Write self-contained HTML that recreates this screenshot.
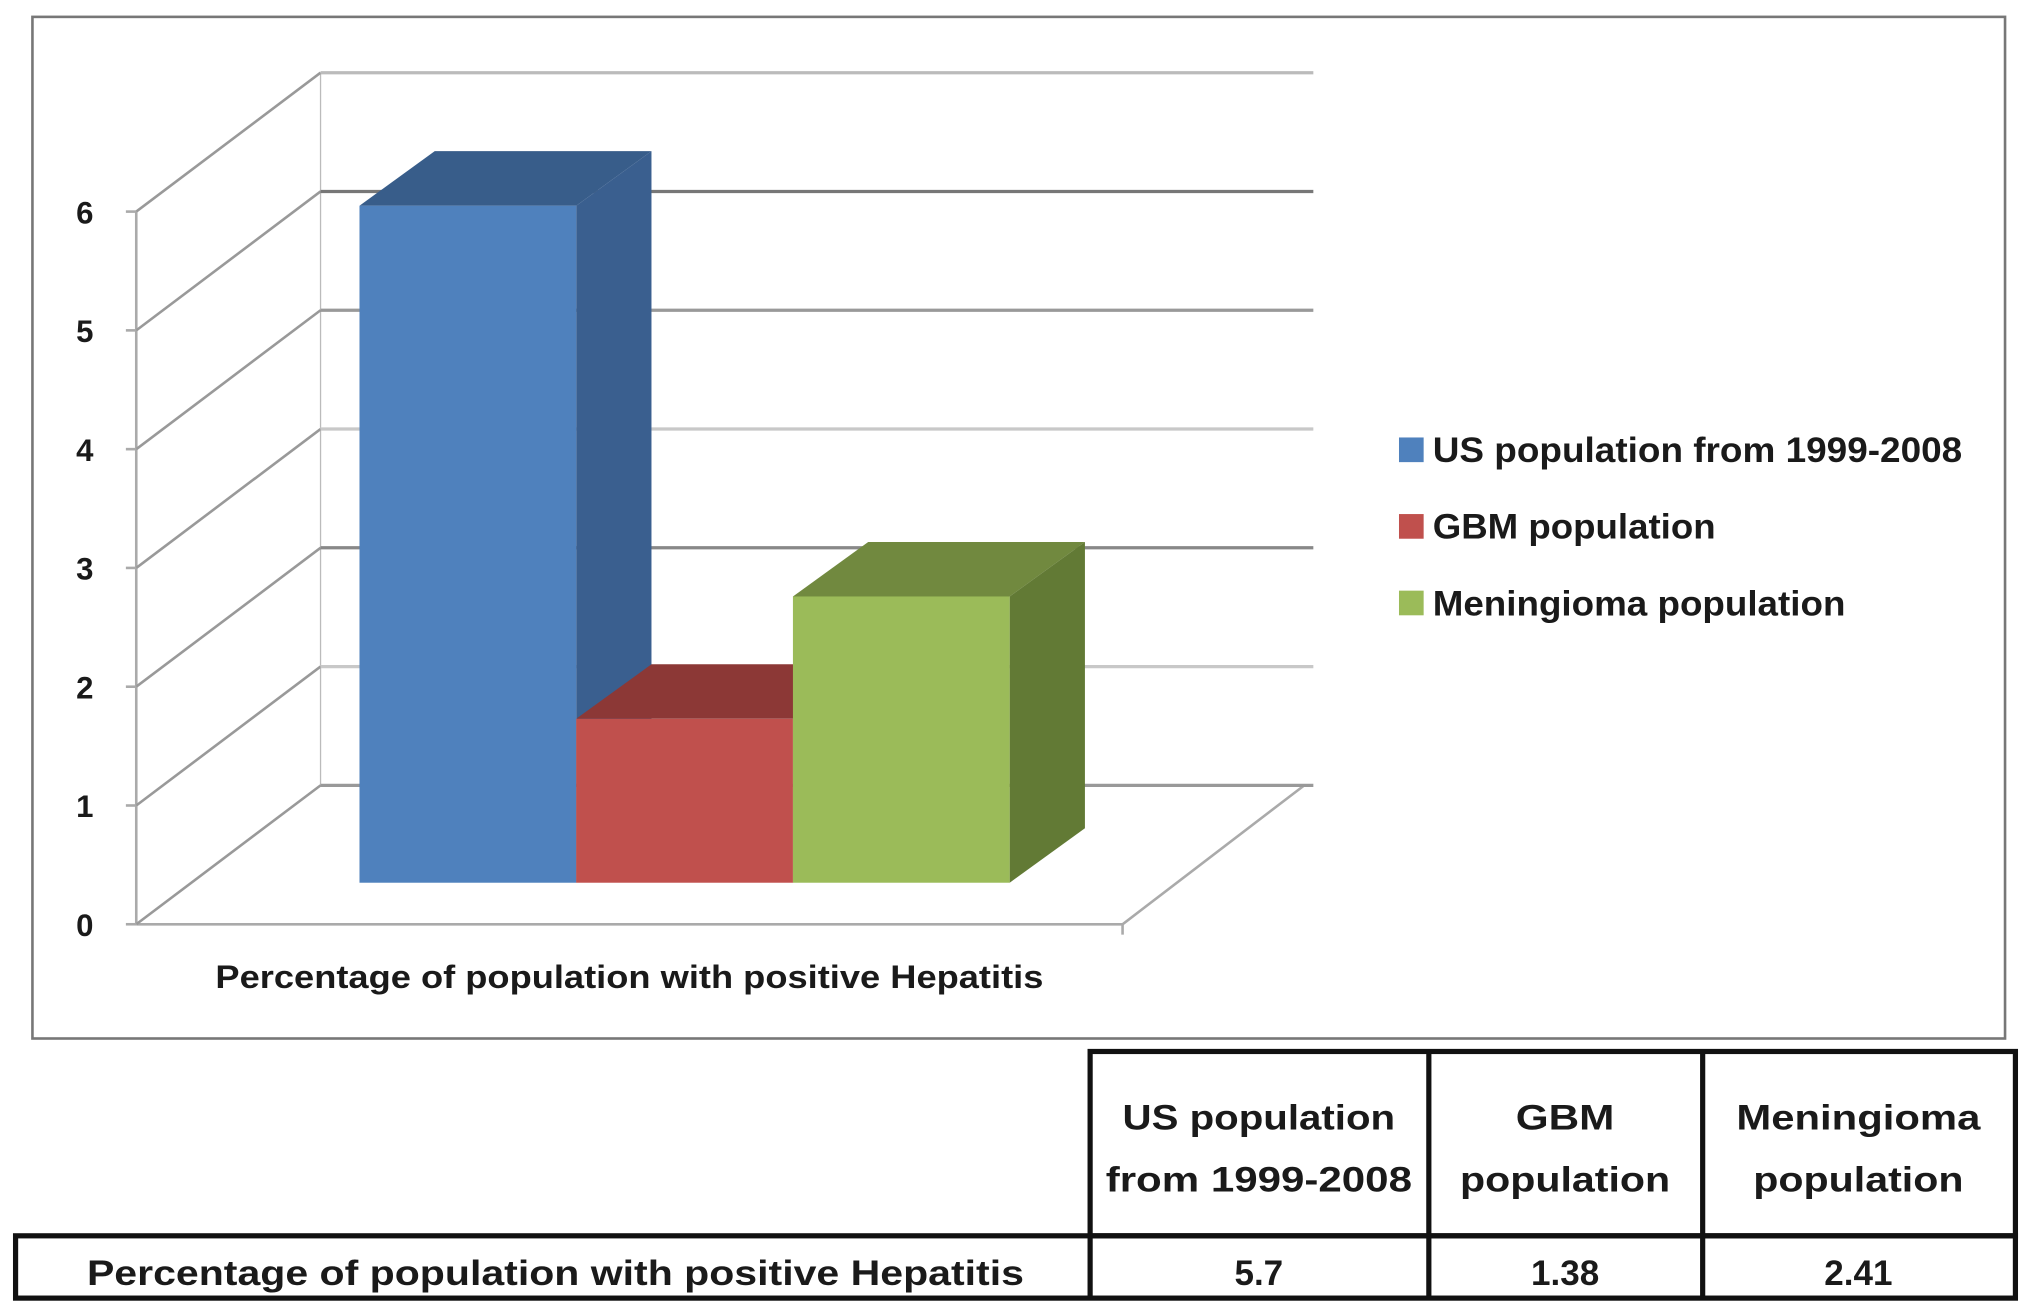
<!DOCTYPE html>
<html><head><meta charset="utf-8"><style>
html,body{margin:0;padding:0;background:#fff;}
svg{display:block;}
text{font-family:"Liberation Sans",sans-serif;font-weight:bold;fill:#1a1a1a;}
</style></head><body>
<svg id="chart" width="2031" height="1315" viewBox="0 0 1565 1013" preserveAspectRatio="none" xmlns="http://www.w3.org/2000/svg">
<rect x="25" y="13" width="1520" height="787" fill="#fff" stroke="#777" stroke-width="2"/>
<g id="grid"></g>
<g id="bars"></g>
<text x="485" y="761" font-size="25" text-anchor="middle" textLength="638" lengthAdjust="spacingAndGlyphs">Percentage of population with positive Hepatitis</text>
<g id="legend"></g>
<g>
<rect x="840" y="810" width="713" height="142" fill="none" stroke="#111" stroke-width="4"/>
<line x1="1101" y1="810" x2="1101" y2="1000" stroke="#111" stroke-width="4"/>
<line x1="1312" y1="810" x2="1312" y2="1000" stroke="#111" stroke-width="4"/>
<line x1="840" y1="952" x2="840" y2="1000" stroke="#111" stroke-width="4"/>
<rect x="12" y="952" width="1541" height="48" fill="none" stroke="#111" stroke-width="4"/>
<text x="970" y="870" font-size="27" text-anchor="middle" textLength="210" lengthAdjust="spacingAndGlyphs">US population</text>
<text x="970" y="918" font-size="27" text-anchor="middle" textLength="236" lengthAdjust="spacingAndGlyphs">from 1999-2008</text>
<text x="1206" y="870" font-size="27" text-anchor="middle" textLength="76" lengthAdjust="spacingAndGlyphs">GBM</text>
<text x="1206" y="918" font-size="27" text-anchor="middle" textLength="162" lengthAdjust="spacingAndGlyphs">population</text>
<text x="1432" y="870" font-size="27" text-anchor="middle" textLength="188" lengthAdjust="spacingAndGlyphs">Meningioma</text>
<text x="1432" y="918" font-size="27" text-anchor="middle" textLength="162" lengthAdjust="spacingAndGlyphs">population</text>
<text x="428" y="990" font-size="27" text-anchor="middle" textLength="722" lengthAdjust="spacingAndGlyphs">Percentage of population with positive Hepatitis</text>
<text id="v0" x="970" y="990" font-size="27" text-anchor="middle">5.7</text>
<text id="v1" x="1206" y="990" font-size="27" text-anchor="middle">1.38</text>
<text id="v2" x="1432" y="990" font-size="27" text-anchor="middle">2.41</text>
</g>
</svg>
<script>
const categories = ["US population from 1999-2008", "GBM population", "Meningioma population"];
const values = [5.7, 1.38, 2.41];
const yTicks = [0, 1, 2, 3, 4, 5, 6];
const colors = [["#4f81bd","#385d8a","#3a5f8f"],["#c0504d","#8c3836","#943a38"],["#9bbb59","#71893f","#627a35"]];

const NS = "http://www.w3.org/2000/svg";
const svg = document.getElementById('chart');
const yFront = v => 712 - v * 91.5;
const DX = 142, DY = -107;
function mk(tag, attrs, parent){ const e = document.createElementNS(NS, tag); for (const k in attrs) e.setAttribute(k, attrs[k]); parent.appendChild(e); return e; }

const grid = document.getElementById('grid');
mk('line',{x1:105,y1:yFront(0),x2:105,y2:yFront(6),stroke:'#aaa','stroke-width':2},grid);
mk('line',{x1:105+DX,y1:yFront(0)+DY,x2:105+DX,y2:yFront(6)+DY,stroke:'#bbb','stroke-width':1},grid);
mk('polyline',{points:`105,712 865,712 1005,605`,fill:'none',stroke:'#aaa','stroke-width':2},grid);
mk('line',{x1:865,y1:712,x2:865,y2:720,stroke:'#aaa','stroke-width':2},grid);
const backCols = ['#999','#c8c8c8','#888','#c8c8c8','#999','#777','#bbb'];
yTicks.forEach((t, i) => {
  const y = yFront(t);
  const g = mk('g',{},grid);
  
  
  mk('line',{x1:105,y1:y,x2:105+DX,y2:y+DY,stroke:'#999','stroke-width':2},g);
  mk('line',{x1:105+DX,y1:y+DY,x2:1012,y2:y+DY,stroke:backCols[i % backCols.length],'stroke-width':2.5},g);
  mk('line',{x1:97,y1:y,x2:105,y2:y,stroke:'#aaa','stroke-width':2},g);
  const tx = mk('text',{x:72,y:y+9,'font-size':24,'text-anchor':'end'},g);
  tx.textContent = t;
  
  
});

const bars = document.getElementById('bars');
const base = 680, bx0 = 277, bw = 167, ddx = 58, ddy = -42, unit = 91.5;
values.forEach((v, i) => {
  const x = bx0 + i * bw, top = base - v * unit;
  const g = mk('g',{},bars);
  
  
  mk('polygon',{points:`${x},${top} ${x+bw},${top} ${x+bw+ddx},${top+ddy} ${x+ddx},${top+ddy}`,fill:colors[i][1]},g);
  mk('polygon',{points:`${x+bw},${top} ${x+bw+ddx},${top+ddy} ${x+bw+ddx},${base+ddy} ${x+bw},${base}`,fill:colors[i][2]},g);
  mk('rect',{x:x,y:top,width:bw,height:base-top,fill:colors[i][0]},g);
});

const legendWidths = [408, 218, 318];
const legend = document.getElementById('legend');
categories.forEach((c, i) => {
  const y = 337 + i * 59;
  const g = mk('g',{},legend);
  
  
  mk('rect',{x:1078,y:y,width:19,height:19,fill:colors[i][0]},g);
  const t = mk('text',{x:1104,y:y+19,'font-size':27,textLength:legendWidths[i],lengthAdjust:'spacingAndGlyphs'},g);
  t.textContent = c;
});
document.getElementById('v0').textContent = values[0];
document.getElementById('v1').textContent = values[1];
document.getElementById('v2').textContent = values[2];
</script>
</body></html>
